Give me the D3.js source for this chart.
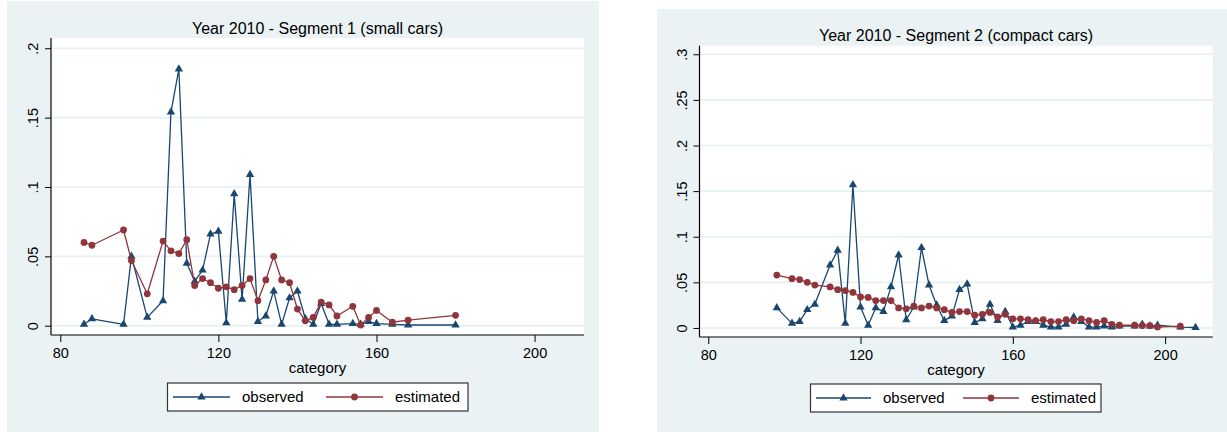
<!DOCTYPE html>
<html>
<head>
<meta charset="utf-8">
<script src="https://cdn.jsdelivr.net/npm/d3@7"></script>
<style>
  html, body { margin: 0; padding: 0; background: #ffffff; }
  svg { display: block; }
  text { font-family: "Liberation Sans", Arial, sans-serif; fill: #000; }
</style>
</head>
<body>
<svg id="chart" width="1227" height="432"></svg>
<script>
// ---------- Data ----------
const titles = ["Year 2010 - Segment 1 (small cars)", "Year 2010 - Segment 2 (compact cars)"];
const seriesNames = ["observed", "estimated"];
const xTicks = [80, 120, 160, 200];
const yTicks1 = [0, 0.05, 0.1, 0.15, 0.2];
const yTickLabels1 = ["0", ".05", ".1", ".15", ".2"];
const yTicks2 = [0, 0.05, 0.1, 0.15, 0.2, 0.25, 0.3];
const yTickLabels2 = ["0", ".05", ".1", ".15", ".2", ".25", ".3"];

// Segment 1
const cats1 = [86,88,96,98,102,106,108,110,112,114,116,118,120,122,124,126,128,130,132,134,136,138,140,142,144,146,148,150,154,156,158,160,164,168,180];
const obs1 = [0.001,0.005,0.001,0.050,0.006,0.018,0.154,0.185,0.045,0.032,0.040,0.066,0.068,0.002,0.095,0.019,0.109,0.003,0.007,0.025,0.001,0.020,0.025,0.005,0.001,0.016,0.001,0.001,0.0015,0.001,0.003,0.0015,0.001,0.0005,0.0005];
const est1 = [0.060,0.058,0.069,0.047,0.023,0.061,0.054,0.052,0.062,0.029,0.034,0.031,0.027,0.028,0.026,0.029,0.034,0.018,0.033,0.050,0.033,0.031,0.012,0.0035,0.006,0.017,0.015,0.007,0.014,0.0005,0.006,0.011,0.0025,0.004,0.0075];

// Segment 2
const estCats2 = [98,102,104,106,108,112,114,116,118,120,122,124,126,128,130,132,134,136,138,140,142,144,146,148,150,152,154,156,158,160,162,164,166,168,170,172,174,176,178,180,182,184,186,188,192,194,196,198,204];
const est2 = [0.058,0.054,0.053,0.050,0.047,0.045,0.042,0.041,0.039,0.034,0.0335,0.030,0.030,0.030,0.022,0.021,0.024,0.022,0.024,0.022,0.020,0.017,0.018,0.018,0.014,0.015,0.017,0.012,0.015,0.010,0.010,0.009,0.008,0.009,0.007,0.007,0.009,0.008,0.010,0.008,0.006,0.008,0.004,0.003,0.003,0.0025,0.0025,0.001,0.002];
const obsCats2 = [98,102,104,106,108,112,114,116,118,120,122,124,126,128,130,132,134,136,138,140,142,144,146,148,150,152,154,156,158,160,162,164,166,168,170,172,174,176,178,180,182,184,186,188,192,194,196,198,204,208];
const obs2 = [0.022,0.005,0.007,0.020,0.026,0.069,0.085,0.005,0.157,0.023,0.003,0.022,0.018,0.045,0.080,0.009,0.023,0.088,0.047,0.025,0.008,0.013,0.042,0.048,0.006,0.010,0.026,0.008,0.018,0.001,0.003,0.007,0.007,0.003,0.001,0.001,0.004,0.012,0.007,0.001,0.001,0.002,0.001,0.002,0.002,0.004,0.002,0.003,0.001,0.0005];

// ---------- Style ----------
const BG = "#eaf2f3";
const GRID = "#e6eff1";
const NAVY = "#1a476f";
const MAROON = "#90353b";

const svg = d3.select("#chart");
svg.append("rect").attr("x", 0).attr("y", 0).attr("width", 1227).attr("height", 432).attr("fill", "#fff");

const panels = [
  {
    bg: [7, 1, 599, 432],
    plot: { x0: 51, x1: 584, y0: 38, y1: 335 },
    xDomain: [77.65, 212.5], yDomain: [-0.0067, 0.2074],
    yTicks: yTicks1, yTickLabels: yTickLabels1,
    titleY: 28, tickLabelY: 353, yLabelX: 33, axisTitleY: 368,
    legend: { x0: 167.5, x1: 468, y0: 383, y1: 411, l1: [173, 230], t1: 242, l2: [326, 383], t2: 395 },
    title: titles[0],
    obsX: cats1, obsY: obs1, estX: cats1, estY: est1
  },
  {
    bg: [657, 9, 1227, 432],
    plot: { x0: 699.5, x1: 1212.7, y0: 45.7, y1: 337 },
    xDomain: [77.7, 212.5], yDomain: [-0.0099, 0.3094],
    yTicks: yTicks2, yTickLabels: yTickLabels2,
    titleY: 35, tickLabelY: 355, yLabelX: 681.5, axisTitleY: 369.5,
    legend: { x0: 810.5, x1: 1101, y0: 384, y1: 412, l1: [816, 871], t1: 883, l2: [963, 1019], t2: 1031 },
    title: titles[1],
    obsX: obsCats2, obsY: obs2, estX: estCats2, estY: est2
  }
];

const tri = d3.symbol().type(d3.symbolTriangle).size(30);

function drawSeries(g, xs, ys, x, y, color, marker) {
  const pts = xs.map((c, i) => [c, ys[i]]);
  const line = d3.line().x(d => x(d[0])).y(d => y(d[1]));
  g.append("path").datum(pts).attr("d", line)
    .attr("fill", "none").attr("stroke", color).attr("stroke-width", 1.3).attr("stroke-linejoin", "round");
  if (marker === "tri") {
    g.selectAll(null).data(pts).enter().append("path")
      .attr("d", tri).attr("transform", d => `translate(${x(d[0])},${y(d[1])})`)
      .attr("fill", color);
  } else {
    g.selectAll(null).data(pts).enter().append("circle")
      .attr("cx", d => x(d[0])).attr("cy", d => y(d[1])).attr("r", 3.4)
      .attr("fill", color);
  }
}

panels.forEach(p => {
  const [bx0, by0, bx1, by1] = p.bg;
  svg.append("rect").attr("x", bx0).attr("y", by0).attr("width", bx1 - bx0).attr("height", by1 - by0).attr("fill", BG);
  const P = p.plot;
  svg.append("rect").attr("x", P.x0).attr("y", P.y0).attr("width", P.x1 - P.x0).attr("height", P.y1 - P.y0).attr("fill", "#fff");

  const x = d3.scaleLinear().domain(p.xDomain).range([P.x0, P.x1]);
  const y = d3.scaleLinear().domain(p.yDomain).range([P.y1, P.y0]);

  // gridlines
  svg.append("g").selectAll("line").data(p.yTicks).enter().append("line")
    .attr("x1", P.x0).attr("x2", P.x1).attr("y1", d => y(d)).attr("y2", d => y(d))
    .attr("stroke", GRID).attr("stroke-width", 1.6);

  // axes
  const xAxis = d3.axisBottom(x).tickValues(xTicks).tickSize(7).tickPadding(4).tickSizeOuter(0);
  const gx = svg.append("g").attr("transform", `translate(0,${P.y1})`).call(xAxis);
  gx.select(".domain").attr("stroke", "#000").attr("stroke-width", 1.2)
    .attr("d", `M${P.x0},0H${P.x1}`);
  gx.selectAll(".tick line").attr("stroke", "#000").attr("stroke-width", 1);
  gx.selectAll(".tick text").remove();
  gx.selectAll(".tick").append("text")
    .attr("x", 0).attr("y", p.tickLabelY - P.y1).attr("dy", "0.35em")
    .attr("text-anchor", "middle").style("font-size", "14.5px").text(d => d);

  const yAxis = d3.axisLeft(y).tickValues(p.yTicks).tickSize(6).tickSizeOuter(0);
  const gy = svg.append("g").attr("transform", `translate(${P.x0},0)`).call(yAxis);
  gy.select(".domain").attr("stroke", "#000").attr("stroke-width", 1.2)
    .attr("d", `M0,${P.y0}V${P.y1}`);
  gy.selectAll(".tick line").attr("stroke", "#000").attr("stroke-width", 1);
  gy.selectAll(".tick text").remove();
  gy.selectAll(".tick").append("text")
    .attr("transform", `translate(${p.yLabelX - P.x0},0) rotate(-90)`)
    .attr("dy", "0.35em").attr("text-anchor", "middle").style("font-size", "14.5px")
    .text((d, i) => p.yTickLabels[i]);

  // title and axis title
  const cx = (P.x0 + P.x1) / 2;
  svg.append("text").attr("x", cx).attr("y", p.titleY).attr("dy", "0.35em")
    .attr("text-anchor", "middle").style("font-size", "16px").text(p.title);
  svg.append("text").attr("x", cx).attr("y", p.axisTitleY).attr("dy", "0.35em")
    .attr("text-anchor", "middle").style("font-size", "15px").text("category");

  // series
  const g = svg.append("g");
  drawSeries(g, p.obsX, p.obsY, x, y, NAVY, "tri");
  drawSeries(g, p.estX, p.estY, x, y, MAROON, "circle");

  // legend
  const L = p.legend;
  const lg = svg.append("g");
  lg.append("rect").attr("x", L.x0).attr("y", L.y0).attr("width", L.x1 - L.x0).attr("height", L.y1 - L.y0)
    .attr("fill", "#fff").attr("stroke", "#333").attr("stroke-width", 1.2);
  const ly = (L.y0 + L.y1) / 2;
  lg.append("line").attr("x1", L.l1[0]).attr("x2", L.l1[1]).attr("y1", ly).attr("y2", ly)
    .attr("stroke", NAVY).attr("stroke-width", 1.3);
  lg.append("path").attr("d", tri).attr("transform", `translate(${(L.l1[0] + L.l1[1]) / 2},${ly})`).attr("fill", NAVY);
  lg.append("text").attr("x", L.t1).attr("y", ly).attr("dy", "0.35em").style("font-size", "15px").text(seriesNames[0]);
  lg.append("line").attr("x1", L.l2[0]).attr("x2", L.l2[1]).attr("y1", ly).attr("y2", ly)
    .attr("stroke", MAROON).attr("stroke-width", 1.3);
  lg.append("circle").attr("cx", (L.l2[0] + L.l2[1]) / 2).attr("cy", ly).attr("r", 3.4).attr("fill", MAROON);
  lg.append("text").attr("x", L.t2).attr("y", ly).attr("dy", "0.35em").style("font-size", "15px").text(seriesNames[1]);
});
</script>
</body>
</html>
